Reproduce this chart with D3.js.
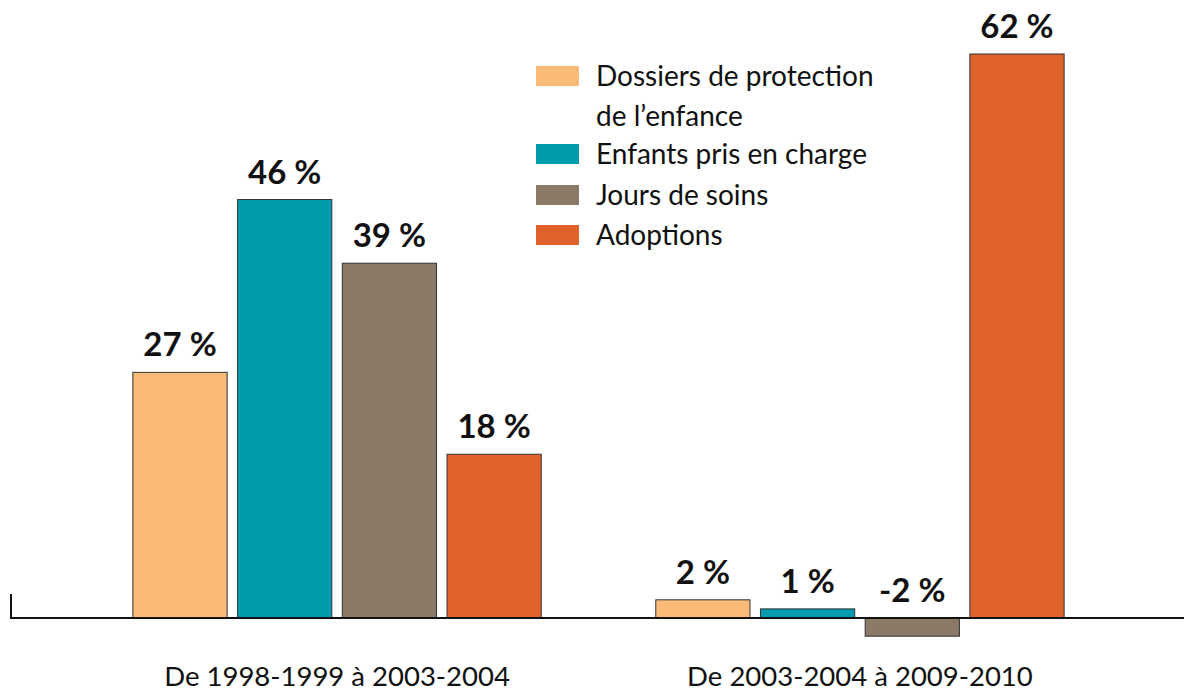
<!DOCTYPE html>
<html>
<head>
<meta charset="utf-8">
<style>
  body { margin: 0; background: #fff; font-family: Lato, "Open Sans", sans-serif; }
  svg { display: block; }
  .bar { stroke: #333; stroke-width: 1; }
  .val { font-weight: bold; font-size: 33px; fill: #111; text-anchor: middle; }
  .cat { font-size: 27.5px; fill: #111; text-anchor: middle; }
  .leg { font-size: 28px; fill: #111; }
</style>
</head>
<body>
<script src="https://d3js.org/d3.v7.min.js"></script>
<script>
// data
var periods = ["De 1998-1999 à 2003-2004", "De 2003-2004 à 2009-2010"];
var seriesNames = ["Dossiers de protection de l’enfance", "Enfants pris en charge", "Jours de soins", "Adoptions"];
var legendLines = [["Dossiers de protection", "de l’enfance"], ["Enfants pris en charge"], ["Jours de soins"], ["Adoptions"]];
var colors = ["#FBBA78", "#009CAE", "#8B7A68", "#DF622B"];
var values1 = [27, 46, 39, 18];   // 1998-1999 -> 2003-2004
var values2 = [2, 1, -2, 62];     // 2003-2004 -> 2009-2010
var allValues = [values1, values2];

var W = 1184, H = 692;
var svg = d3.select("body").append("svg").attr("width", W).attr("height", H);

// scales
var y = d3.scaleLinear().domain([0, 62]).range([618, 54]);

var x0 = d3.scaleBand()
    .domain(periods)
    .range([10, 1187])
    .paddingInner(0.199)
    .paddingOuter(0.225);

var x1 = d3.scaleBand()
    .domain(seriesNames)
    .range([0, x0.bandwidth()])
    .paddingInner(0.1)
    .paddingOuter(0.05);

var rows = [];
periods.forEach(function(p, i) {
  seriesNames.forEach(function(s, j) {
    rows.push({period: p, series: s, value: allValues[i][j], color: colors[j]});
  });
});

// bars
svg.append("g").selectAll("rect")
  .data(rows)
  .enter().append("rect")
  .attr("class", "bar")
  .attr("x", function(d) { return x0(d.period) + x1(d.series); })
  .attr("y", function(d) { return y(Math.max(0, d.value)); })
  .attr("width", x1.bandwidth())
  .attr("height", function(d) { return Math.abs(y(d.value) - y(0)); })
  .attr("fill", function(d) { return d.color; });

// value labels
svg.append("g").selectAll("text")
  .data(rows)
  .enter().append("text")
  .attr("class", "val")
  .attr("x", function(d) { return x0(d.period) + x1(d.series) + x1.bandwidth() / 2; })
  .attr("y", function(d) { return Math.min(y(d.value), y(0)) - 16; })
  .text(function(d) { return d.value + " %"; });

// axis baseline
svg.append("line")
  .attr("x1", 10).attr("x2", W)
  .attr("y1", y(0)).attr("y2", y(0))
  .attr("stroke", "#111").attr("stroke-width", 2);
svg.append("line")
  .attr("x1", 11).attr("x2", 11)
  .attr("y1", y(0) - 24).attr("y2", y(0) + 1)
  .attr("stroke", "#111").attr("stroke-width", 2);

// category labels
svg.append("g").selectAll("text")
  .data(periods)
  .enter().append("text")
  .attr("class", "cat")
  .attr("x", function(d) { return x0(d) + x0.bandwidth() / 2; })
  .attr("y", 686)
  .text(function(d) { return d; });

// legend
var legY = [66, 144, 185, 225];
var leg = svg.append("g");
legendLines.forEach(function(lines, i) {
  leg.append("rect")
    .attr("x", 536).attr("y", legY[i])
    .attr("width", 43).attr("height", 20)
    .attr("fill", colors[i]);
  var t = leg.append("text").attr("class", "leg").attr("x", 596).attr("y", legY[i] + 20);
  lines.forEach(function(l, k) {
    t.append("tspan").attr("x", 596).attr("dy", k === 0 ? 0 : 40).text(l);
  });
});
</script>
</body>
</html>
